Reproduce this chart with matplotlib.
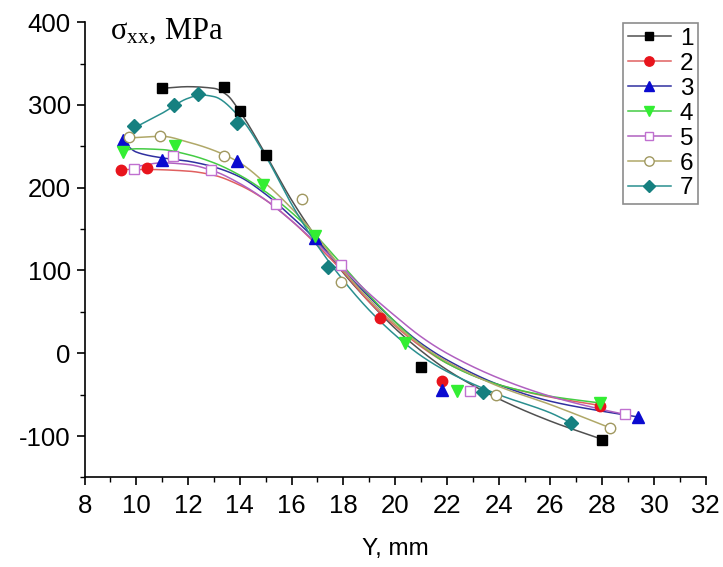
import numpy as np
import matplotlib
matplotlib.use("Agg")
import matplotlib.pyplot as plt
from matplotlib.lines import Line2D
from matplotlib.ticker import MultipleLocator

plt.rcParams['font.family'] = ['Liberation Sans', 'DejaVu Sans']
plt.rcParams['mathtext.fontset'] = 'custom'
plt.rcParams['mathtext.rm'] = 'Liberation Serif'
plt.rcParams['mathtext.it'] = 'Liberation Serif:italic'
plt.rcParams['axes.unicode_minus'] = False

# ---- measured points (Y, mm ; sigma_xx, MPa) ----
x1 = [11.0, 13.4, 14.0, 15.0, 21.0, 28.0]
y1 = [320, 322, 293, 239, -17, -105]
x2 = [9.4, 10.4, 19.4, 21.8, 27.9]
y2 = [221, 224, 42, -34, -64]
x3 = [9.5, 11.0, 13.9, 16.9, 21.8, 29.4]
y3 = [258, 233, 232, 139, -44, -77]
x4 = [9.5, 11.5, 14.9, 16.9, 20.4, 22.4, 27.9]
y4 = [243, 250, 203, 142, 12, -46, -60]
x5 = [9.9, 11.4, 12.9, 15.4, 17.9, 22.9, 28.9]
y5 = [222, 238, 221, 180, 107, -46, -74]
x6 = [9.7, 10.9, 13.4, 16.4, 17.9, 23.9, 28.3]
y6 = [261, 263, 238, 186, 86, -50, -90]
x7 = [9.9, 11.45, 12.4, 13.9, 17.4, 23.4, 26.8]
y7 = [274, 300, 313, 278, 104, -47, -84]

# ---- smoothed fit curves ----
c1x = [11, 12, 13, 13.5, 14, 15, 16, 17, 18, 19, 20, 21, 22, 24, 26, 28]
c1y = [320, 322, 320, 312, 292, 240, 185, 138, 97, 62, 30, 3, -20, -55, -82, -104]
c2x = [9.4, 10.4, 12, 13, 14, 15, 16, 17, 18, 19, 20, 21, 22, 24, 26, 27.9]
c2y = [222, 222, 220, 215, 203, 185, 160, 130, 98, 62, 33, 8, -12, -38, -53, -63]
c3x = [9.5, 10, 11, 12, 13, 14, 15, 16, 17, 18, 19, 20, 21, 22, 24, 26, 28, 29.4]
c3y = [255, 243, 236, 232, 225, 213, 192, 165, 135, 100, 68, 38, 12, -8, -38, -58, -70, -77]
c4x = [9.5, 10, 11, 12, 13, 14, 15, 16, 17, 18, 19, 20, 21, 22, 24, 26, 27.9]
c4y = [245, 247, 246, 240, 230, 215, 195, 170, 140, 105, 70, 38, 10, -12, -38, -52, -60]
c5x = [9.9, 11, 12, 13, 14, 15, 16, 17, 18, 19, 20, 21, 22, 24, 26, 28, 28.9]
c5y = [225, 230, 228, 220, 205, 185, 160, 132, 102, 72, 45, 20, 0, -30, -52, -68, -74]
c6x = [9.7, 11, 12, 13, 14, 15, 16, 17, 18, 19, 20, 21, 22, 24, 26, 28.3]
c6y = [260, 262, 255, 245, 230, 205, 175, 140, 100, 65, 35, 10, -10, -40, -62, -90]
c7x = [9.9, 11, 12, 12.5, 13, 14, 15, 16, 17, 18, 19, 20, 21, 22, 24, 26, 26.8]
c7y = [272, 290, 308, 312, 310, 285, 238, 180, 130, 88, 52, 22, -3, -22, -50, -72, -84]

labels = ['1', '2', '3', '4', '5', '6', '7']


def pchip(xk, yk, n=300):
    xk = np.asarray(xk, float)
    yk = np.asarray(yk, float)
    h = np.diff(xk)
    d = np.diff(yk) / h
    m = np.zeros_like(yk)
    for k in range(1, len(xk) - 1):
        if d[k - 1] * d[k] > 0:
            w1 = 2 * h[k] + h[k - 1]
            w2 = h[k] + 2 * h[k - 1]
            m[k] = (w1 + w2) / (w1 / d[k - 1] + w2 / d[k])
    m[0] = d[0]
    m[-1] = d[-1]
    xs = np.linspace(xk[0], xk[-1], n)
    idx = np.clip(np.searchsorted(xk, xs) - 1, 0, len(h) - 1)
    t = (xs - xk[idx]) / h[idx]
    h00 = 2 * t**3 - 3 * t**2 + 1
    h10 = t**3 - 2 * t**2 + t
    h01 = -2 * t**3 + 3 * t**2
    h11 = t**3 - t**2
    ys = (h00 * yk[idx] + h10 * h[idx] * m[idx] + h01 * yk[idx + 1]
          + h11 * h[idx] * m[idx + 1])
    return xs, ys


styles = [
    dict(marker='s', mfc='black', mec='black', lc='#505050', ms=7),
    dict(marker='o', mfc='#e8141c', mec='#e8141c', lc='#e06060', ms=7.5),
    dict(marker='^', mfc='#0a0ad0', mec='#0a0ad0', lc='#3030a0', ms=8.5),
    dict(marker='v', mfc='#33ee33', mec='#33ee33', lc='#44cc44', ms=8.5),
    dict(marker='s', mfc='white', mec='#c070d0', lc='#b060c0', ms=7),
    dict(marker='o', mfc='white', mec='#a09860', lc='#b0a868', ms=7.5),
    dict(marker='D', mfc='#168080', mec='#168080', lc='#2a8f8f', ms=7),
]

points = [(x1, y1), (x2, y2), (x3, y3), (x4, y4), (x5, y5), (x6, y6), (x7, y7)]
curves = [(c1x, c1y), (c2x, c2y), (c3x, c3y), (c4x, c4y), (c5x, c5y), (c6x, c6y), (c7x, c7y)]

fig = plt.figure(figsize=(7.23, 5.67), dpi=100)
ax = fig.add_axes([0.117, 0.158, 0.859, 0.803])

handles = []
for (px, py), (cx, cy), st, lab in zip(points, curves, styles, labels):
    xs, ys = pchip(cx, cy)
    ax.plot(xs, ys, color=st['lc'], lw=1.1, zorder=2)
    ax.plot(px, py, ls='none', marker=st['marker'], mfc=st['mfc'], mec=st['mec'],
            ms=st['ms'], mew=1.0, zorder=3)
    handles.append(Line2D([], [], color=st['lc'], lw=1.1, marker=st['marker'],
                          mfc=st['mfc'], mec=st['mec'], ms=st['ms'] * 0.9, mew=1.0))

ax.set_xlim(8, 32)
ax.set_ylim(-150, 400)
ax.xaxis.set_major_locator(MultipleLocator(2))
ax.xaxis.set_minor_locator(MultipleLocator(1))
ax.yaxis.set_major_locator(MultipleLocator(100))
ax.yaxis.set_minor_locator(MultipleLocator(50))
for s in ['top', 'right']:
    ax.spines[s].set_visible(False)
for s in ['left', 'bottom']:
    ax.spines[s].set_linewidth(1.2)
ax.tick_params(which='major', direction='out', length=6, width=1.2, labelsize=18.5)
ax.tick_params(axis='x', which='major', pad=6)
ax.tick_params(axis='y', which='major', pad=4)
ax.tick_params(which='minor', direction='out', length=3.5, width=1.0)
ax.set_xlabel('Y, mm', fontsize=17.5, labelpad=14)

ax.text(9.0, 389, r'σ$_{\rm xx}$, MPa', fontsize=22, family='Liberation Serif',
        va='center', ha='left')

leg = ax.legend(handles, labels, loc='upper right', bbox_to_anchor=(0.988, 0.998),
                fontsize=17.5, frameon=True, fancybox=False, edgecolor='#707070',
                handlelength=1.8, handletextpad=0.35, labelspacing=0.12,
                borderpad=0.2, borderaxespad=0.0)
leg.get_frame().set_linewidth(1.2)

fig.savefig('out.png', dpi=100)
